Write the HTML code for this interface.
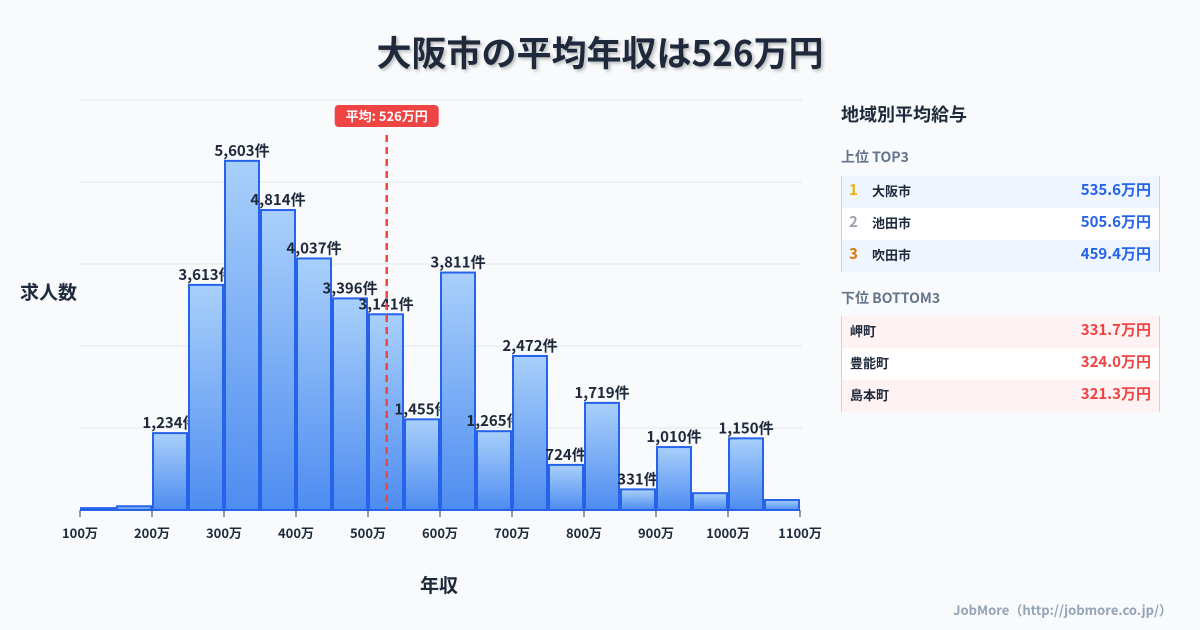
<!DOCTYPE html>
<html><head><meta charset="utf-8"><style>
body{margin:0;width:1200px;height:630px;background:#f8fafc;font-family:"Noto Sans CJK JP","Liberation Sans",sans-serif;position:relative;overflow:hidden;color:#1e293b}
.t{position:absolute;white-space:nowrap}
#title{left:0;width:1200px;top:26px;text-align:center;font-size:35px;font-weight:700;text-shadow:2px 2px 3px rgba(0,0,0,.25)}
.row{position:absolute;left:841px;width:319px;height:32px;font-size:13px;font-weight:700;border-right:1px solid #cbd5e1;border-left:1px solid #cbd5e1;box-sizing:border-box}
.row span{position:absolute;top:5px}
.v{right:8px;font-size:15px;top:3px!important}
</style></head><body>
<div id="title" class="t">大阪市の平均年収は526万円</div>
<div class="t" style="left:20px;top:278px;font-size:19px;font-weight:700">求人数</div>
<div class="t" style="left:420px;top:571px;font-size:19px;font-weight:700">年収</div>
<svg id="chart" width="1200" height="630" style="position:absolute;left:0;top:0;font-family:'Noto Sans CJK JP',sans-serif">
<defs><linearGradient id="g" x1="0" y1="0" x2="0" y2="1"><stop offset="0" stop-color="#a9d0fb"/><stop offset="1" stop-color="#4e8cf0"/></linearGradient></defs>
</svg>
<div class="t" style="left:841px;top:101px;font-size:18px;font-weight:700">地域別平均給与</div>
<div class="t" style="left:841px;top:147px;font-size:14px;font-weight:700;color:#64748b">上位 TOP3</div>
<div class="t" style="left:841px;top:288px;font-size:14px;font-weight:700;color:#64748b">下位 BOTTOM3</div>
<div class="row" style="top:176px;background:#eff6ff"><span style="left:7px;color:#eab308;font-size:15px;top:3px">1</span><span style="left:30px">大阪市</span><span class="v" style="color:#2563eb">535.6万円</span></div>
<div class="row" style="top:208px;background:#fff"><span style="left:7px;color:#9ca3af;font-size:15px;top:3px">2</span><span style="left:30px">池田市</span><span class="v" style="color:#2563eb">505.6万円</span></div>
<div class="row" style="top:240px;background:#eff6ff"><span style="left:7px;color:#d97706;font-size:15px;top:3px">3</span><span style="left:30px">吹田市</span><span class="v" style="color:#2563eb">459.4万円</span></div>
<div class="row" style="top:316px;background:#fef2f2"><span style="left:8px">岬町</span><span class="v" style="color:#ef4444">331.7万円</span></div>
<div class="row" style="top:348px;background:#fff"><span style="left:8px">豊能町</span><span class="v" style="color:#ef4444">324.0万円</span></div>
<div class="row" style="top:380px;background:#fef2f2"><span style="left:8px">島本町</span><span class="v" style="color:#ef4444">321.3万円</span></div>
<div class="t" style="right:28px;top:600px;font-size:13px;font-weight:700;color:#94a3b8">JobMore（http://jobmore.co.jp/）</div>
<script>
const binStarts=[100,150,200,250,300,350,400,450,500,550,600,650,700,750,800,850,900,950,1000,1050];
const counts=[30,60,1234,3613,5603,4814,4037,3396,3141,1455,3811,1265,2472,724,1719,331,1010,270,1150,160];
const xTicks=[100,200,300,400,500,600,700,800,900,1000,1100];
const meanValue=526;
const gridValues=[0,1316,2632,3948,5264,6580];
const NS='http://www.w3.org/2000/svg';
const svg=document.getElementById('chart');
const X=v=>80+(v-100)*0.72;
const Y=v=>510-v*(410/6580);
function mk(t,a){const e=document.createElementNS(NS,t);for(const k in a)e.setAttribute(k,a[k]);svg.appendChild(e);return e;}
gridValues.forEach(g=>{const l=mk('line',{x1:80,x2:802,y1:Y(g),y2:Y(g),stroke:'#e2e8f0','stroke-width':1});

});
binStarts.forEach((b,i)=>{const x0=X(b)+1,x1=X(b+50)-1,y=Y(counts[i]);
const r=mk('rect',{x:x0,y:y,width:x1-x0,height:510-y,fill:'url(#g)',stroke:'#2563eb','stroke-width':2});


if(counts[i]>300){const t=mk('text',{x:(x0+x1)/2,y:y-5,'text-anchor':'middle','font-size':15,'font-weight':700,fill:'#1e293b'});t.textContent=counts[i].toLocaleString('en-US')+'件';

}});
xTicks.forEach(v=>{const l=mk('line',{x1:X(v),x2:X(v),y1:510,y2:517,stroke:'#334155','stroke-width':1});


const t=mk('text',{x:X(v),y:538,'text-anchor':'middle','font-size':13,'font-weight':700,fill:'#1e293b'});t.textContent=v+'万';

});
const mx=X(meanValue);
const ml=mk('line',{x1:mx,x2:mx,y1:135,y2:510,stroke:'#ef4444','stroke-width':2.5,'stroke-dasharray':'7,5'});


const mb=mk('rect',{x:mx-52,y:105,width:104,height:22,rx:4,fill:'#ef4444'});


const mt=mk('text',{x:mx,y:121,'text-anchor':'middle','font-size':13,'font-weight':700,fill:'#fff'});mt.textContent='平均: '+meanValue+'万円';


</script>
</body></html>
